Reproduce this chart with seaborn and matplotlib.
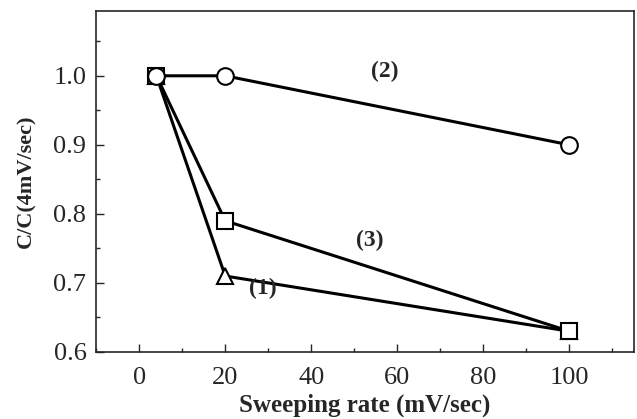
import pandas as pd
import matplotlib.pyplot as plt
from matplotlib.ticker import MultipleLocator
import seaborn as sns

# Data
rate = [4, 20, 100]
ratio_1 = [1.0, 0.71, 0.63]   # triangles
ratio_2 = [1.0, 1.0, 0.90]    # circles
ratio_3 = [1.0, 0.79, 0.63]   # squares
series_names = ["(1)", "(2)", "(3)"]

df = pd.DataFrame({
    "rate": rate * 3,
    "ratio": ratio_1 + ratio_2 + ratio_3,
    "series": [s for s in series_names for _ in rate],
})

sns.set_style("ticks")
plt.rcParams["font.family"] = ["Liberation Serif", "DejaVu Serif"]

fig = plt.figure(figsize=(6.37, 4.19), dpi=100)
ax = fig.add_axes([0.151, 0.160, 0.844, 0.814])

sns.lineplot(data=df, x="rate", y="ratio", style="series",
             style_order=["(1)", "(3)", "(2)"],
             markers={"(1)": "^", "(2)": "o", "(3)": "s"}, dashes=False,
             color="black", linewidth=2.2, markersize=12,
             markerfacecolor="white", markeredgecolor="black",
             markeredgewidth=1.5, legend=False, ax=ax)

# curve labels
lab_kw = dict(fontsize=17, fontweight="bold", ha="center", va="center")
ax.text(28.8, 0.692, "(1)", **lab_kw)
ax.text(57.2, 1.007, "(2)", **lab_kw)
ax.text(53.7, 0.762, "(3)", **lab_kw)

ax.set_xlim(-10, 115)
ax.set_ylim(0.6, 1.094)
ax.set_xticks([0, 20, 40, 60, 80, 100])
ax.set_yticks([0.6, 0.7, 0.8, 0.9, 1.0])
ax.set_yticklabels(["0.6", "0.7", "0.8", "0.9", "1.0"])
ax.xaxis.set_minor_locator(MultipleLocator(10))
ax.yaxis.set_minor_locator(MultipleLocator(0.05))
ax.tick_params(which="both", direction="in", labelsize=19, width=1)
ax.tick_params(which="major", length=6)
ax.tick_params(which="minor", length=3)
ax.tick_params(axis="x", pad=11)
ax.tick_params(axis="y", pad=7)
for sp in ax.spines.values():
    sp.set_linewidth(1.2)

ax.set_xlabel("Sweeping rate (mV/sec)", fontsize=18, fontweight="bold", labelpad=3)
ax.set_ylabel("C/C(4mV/sec)", fontsize=16, fontweight="bold", labelpad=12)

fig.savefig("out.png", dpi=100)
